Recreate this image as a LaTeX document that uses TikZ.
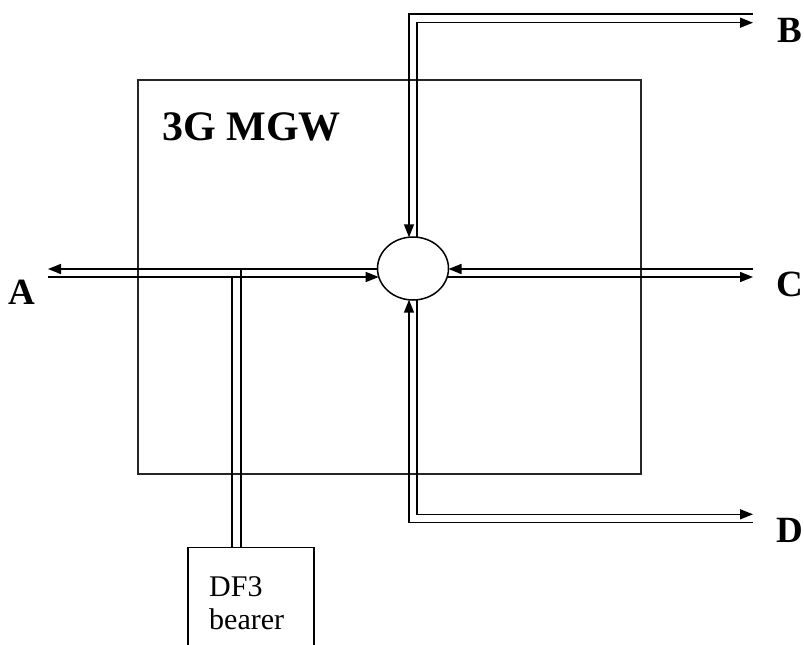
\documentclass[tikz,border=0pt]{standalone}
\usepackage{fontspec}
\setmainfont{Liberation Serif}
\usetikzlibrary{arrows.meta,shapes.geometric}
\begin{document}
\begin{tikzpicture}[x=1pt,y=-1pt,
  conn/.style={line width=1.5pt,black},
  arr/.style={conn,-{Triangle[length=13pt,width=10pt]}},
  boxline/.style={draw=black!85,line width=1.6pt},
  lbl/.style={font=\fontsize{37}{40}\selectfont\bfseries,inner sep=0pt}]
\useasboundingbox (0,0) rectangle (804,645);
\clip (0,0) rectangle (804,645);
% main box
\node[boxline,rectangle,minimum width=503pt,minimum height=394pt,inner sep=0pt,anchor=north west] (mgw) at (137,79) {};
\node[font=\fontsize{42}{46}\selectfont\bfseries,inner sep=0pt,anchor=base west] (title) at (162,140) {3G MGW};
% switch
\node[draw,ellipse,line width=1.5pt,minimum width=71pt,minimum height=63pt,inner sep=0pt] (E) at (413,268.5) {};
% DF3 bearer box
\node[draw,rectangle,line width=1.5pt,minimum width=126pt,minimum height=160pt,inner sep=0pt,anchor=north west] (df3) at (187,546.7) {};
\node[anchor=north west,align=left,inner sep=0pt,font=\fontsize{30}{33}\selectfont] (df3t) at (209,576) {DF3\\bearer};
% labels
\node[lbl] (A) at (21.5,292) {A};
\node[lbl] (B) at (790,30) {B};
\node[lbl] (C) at (790,284.5) {C};
\node[lbl] (D) at (790,530) {D};
% free ends
\coordinate (aU) at (48,269);
\coordinate (aD) at (48,277);
\coordinate (eU) at (377.5,269);
\coordinate (eD) at (378.7,277);
\coordinate (ecU) at (448.5,269);
\coordinate (ecD) at (447.3,277);
\coordinate (cU) at (753,269);
\coordinate (cD) at (753,277);
\coordinate (bO) at (753,14);
\coordinate (bI) at (753,22.7);
\coordinate (etO) at (409,237.3);
\coordinate (etI) at (417,237.3);
\coordinate (ebO) at (409,299.7);
\coordinate (ebI) at (417,299.7);
\coordinate (dO) at (753,522.3);
\coordinate (dI) at (753,514.3);
\coordinate (tapR) at (241,269);
\coordinate (tapL) at (232,277);
% A
\draw[arr] (eU) -- (aU);
\draw[arr] (aD) -- (eD);
% DF3 tap
\draw[conn] (tapR) -- (tapR |- df3.north);
\draw[conn] (tapL) -- (tapL |- df3.north);
% B
\draw[arr] (bO) -| (etO);
\draw[arr] (etI) |- (bI);
% C
\draw[arr] (cU) -- (ecU);
\draw[arr] (ecD) -- (cD);
% D
\draw[arr] (dO) -| (ebO);
\draw[arr] (ebI) |- (dI);
\end{tikzpicture}
\end{document}
